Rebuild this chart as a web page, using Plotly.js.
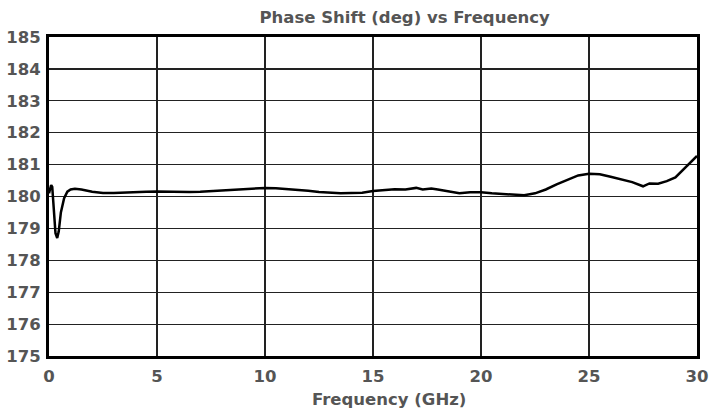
<!DOCTYPE html>
<html>
<head>
<meta charset="utf-8">
<script src="https://cdn.plot.ly/plotly-3.0.1.min.js"></script>
<style>html,body{margin:0;padding:0;background:#fff;}#chart{width:715px;height:413px;}</style>
</head>
<body>
<div id="chart"></div>
<script>
const freqGHz = [0.0,0.05,0.1,0.15,0.2,0.25,0.3,0.38,0.45,0.55,0.7,0.85,1.0,1.2,1.5,2.0,2.5,3.0,3.5,4.0,4.5,5.0,5.5,6.0,6.5,7.0,7.5,8.0,8.5,9.0,9.5,10.0,10.5,11.0,11.5,12.0,12.5,13.0,13.5,14.0,14.5,15.0,15.5,16.0,16.5,17.0,17.3,17.7,18.0,18.5,19.0,19.5,20.0,20.5,21.0,21.5,22.0,22.5,23.0,23.5,24.0,24.5,25.0,25.5,26.0,26.5,27.0,27.5,27.8,28.2,28.6,29.0,29.5,30.0];
const phaseDeg = [180.10,180.25,180.36,180.30,179.90,179.30,178.85,178.70,178.90,179.50,179.95,180.15,180.22,180.24,180.22,180.15,180.11,180.11,180.13,180.14,180.15,180.16,180.15,180.15,180.14,180.15,180.17,180.19,180.22,180.24,180.26,180.27,180.26,180.24,180.21,180.18,180.14,180.11,180.10,180.11,180.12,180.17,180.19,180.23,180.22,180.27,180.22,180.25,180.22,180.17,180.10,180.13,180.13,180.10,180.08,180.05,180.04,180.10,180.22,180.38,180.52,180.66,180.71,180.70,180.62,180.53,180.45,180.32,180.41,180.40,180.48,180.60,180.92,181.27];
const chartTitle = 'Phase Shift (deg) vs Frequency';
const xTitle = 'Frequency (GHz)';

const fsize = 16.5;
const trace = {
  x: freqGHz, y: phaseDeg, type: 'scatter', mode: 'lines',
  line: {color: '#000000', width: 2.5}, showlegend: false
};
const layout = {
  width: 715, height: 413,
  margin: {l: 49, r: 18, t: 37, b: 57},
  paper_bgcolor: '#ffffff', plot_bgcolor: '#ffffff',
  font: {family: 'DejaVu Sans', size: fsize, color: '#555555'},
  title: {text: '<b>' + chartTitle + '</b>', font: {family: 'DejaVu Sans', size: fsize, color: '#555555'},
          xref: 'container', x: 0.566, xanchor: 'center', yref: 'container', y: 0.958, yanchor: 'middle'},
  xaxis: {range: [0, 30], dtick: 5, tick0: 0, showgrid: true, gridcolor: '#222222', gridwidth: 1.2,
          showline: true, linecolor: '#000000', linewidth: 3, mirror: true, zeroline: false,
          ticks: '', tickfont: {family: 'DejaVu Sans', size: fsize, color: '#555555', weight: 'bold'},
          ticklabelstandoff: 3, title: {text: ''}},
  yaxis: {range: [175, 185], dtick: 1, tick0: 175, showgrid: true, gridcolor: '#222222', gridwidth: 1.2,
          showline: true, linecolor: '#000000', linewidth: 3, mirror: true, zeroline: false,
          ticks: '', tickfont: {family: 'DejaVu Sans', size: fsize, color: '#555555', weight: 'bold'},
          ticklabelstandoff: 2},
  annotations: [{text: '<b>' + xTitle + '</b>', xref: 'paper', yref: 'paper', x: 0.525, y: -0.135,
                 xanchor: 'center', yanchor: 'middle', showarrow: false,
                 font: {family: 'DejaVu Sans', size: fsize, color: '#555555'}}]
};
Plotly.newPlot('chart', [trace], layout, {displayModeBar: false, staticPlot: true});
</script>
</body>
</html>
